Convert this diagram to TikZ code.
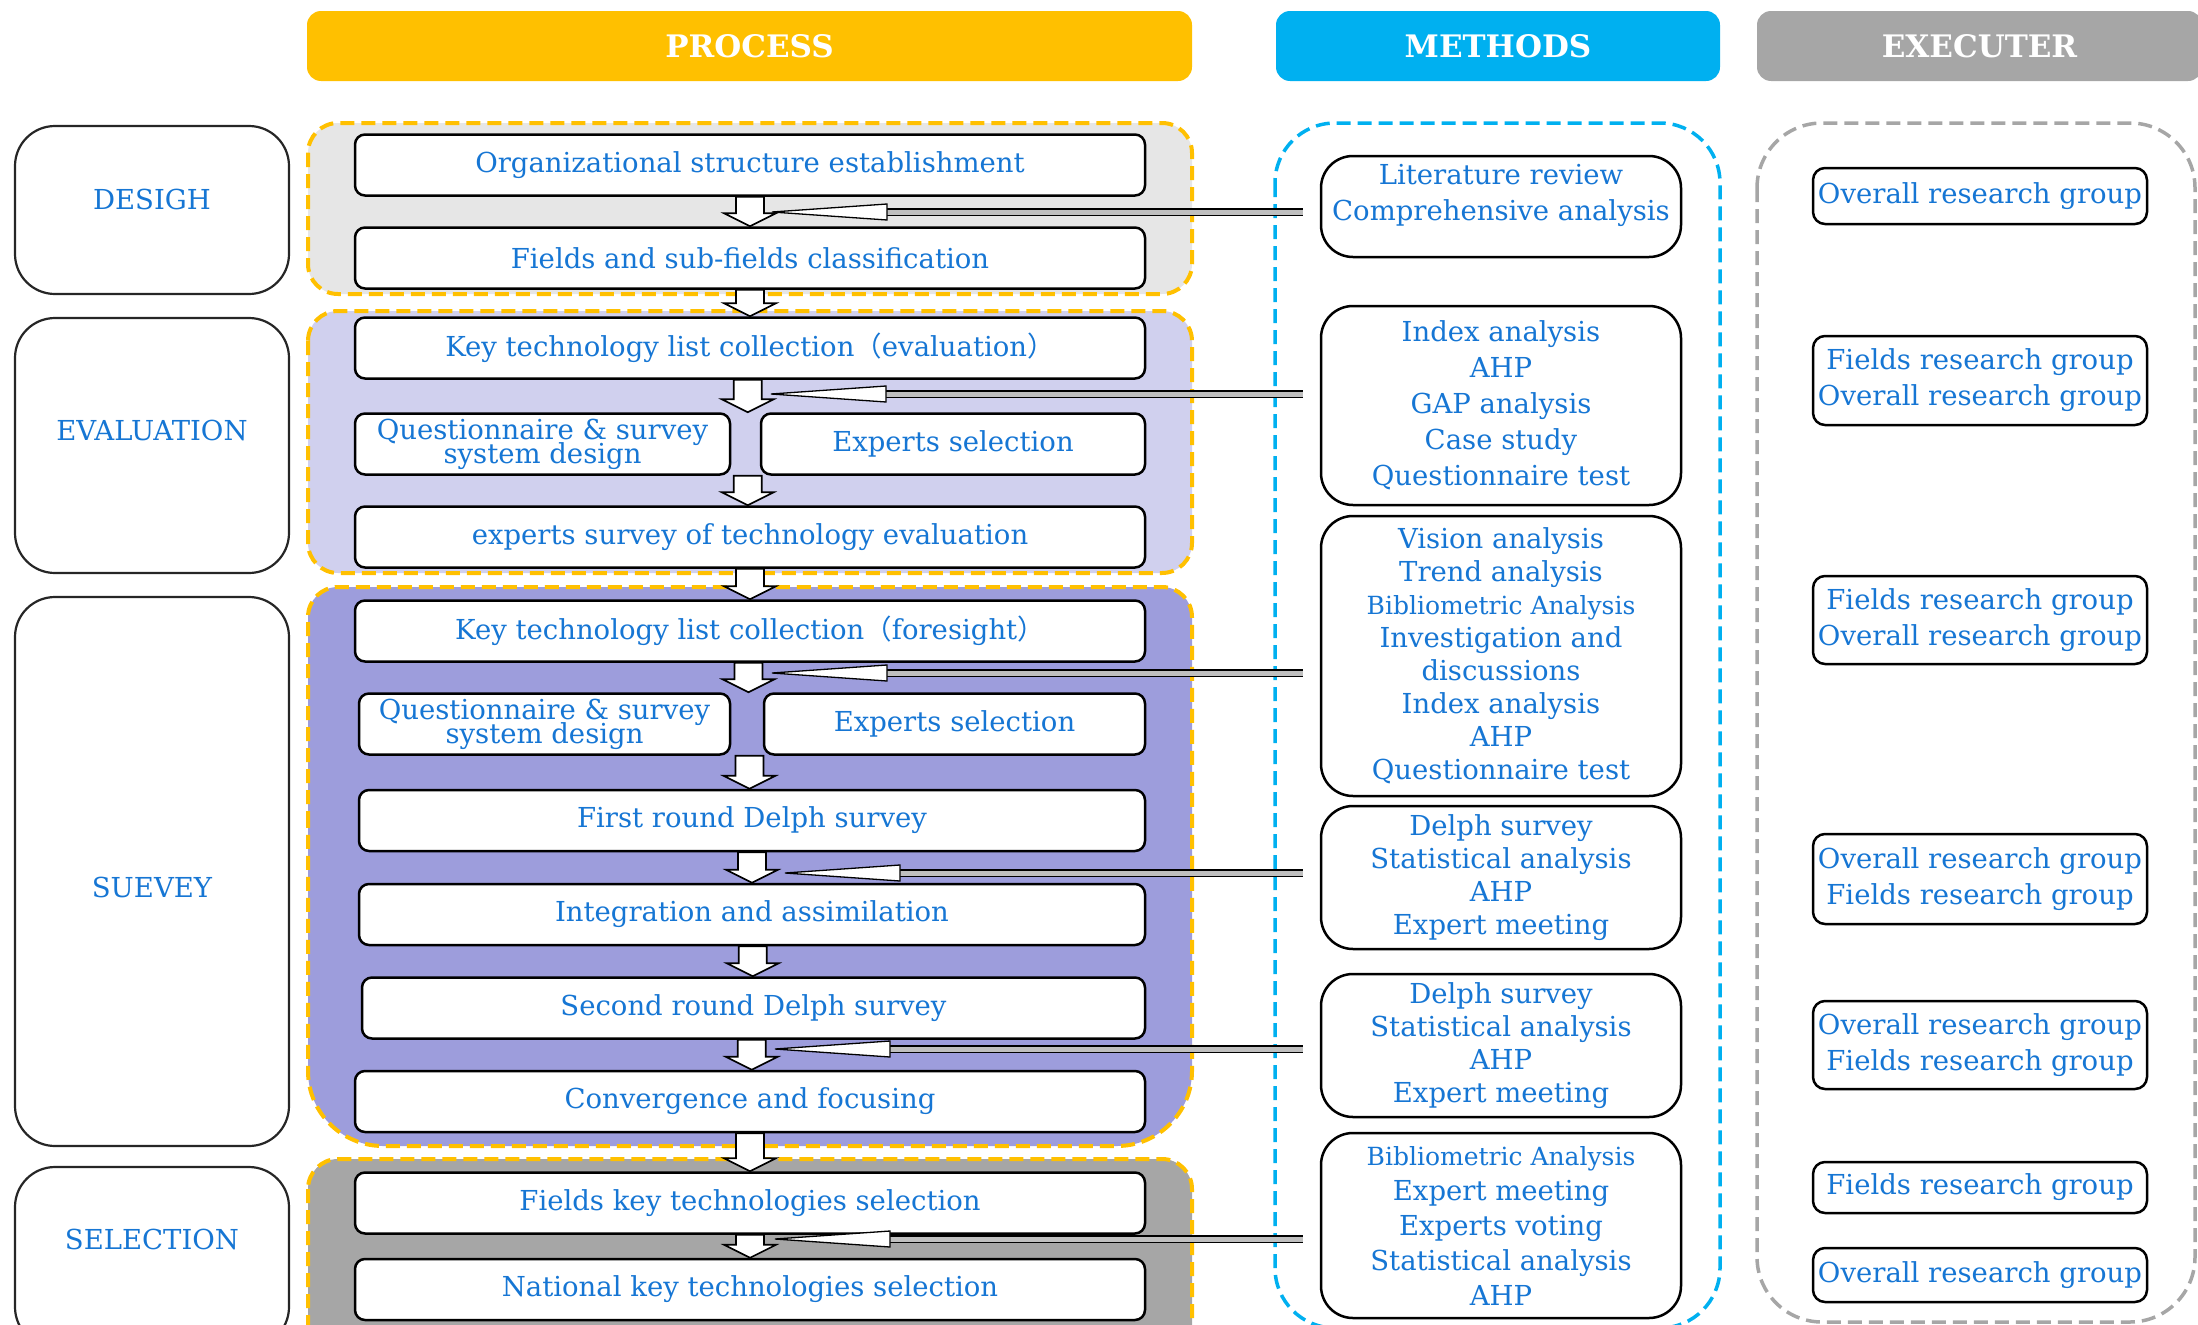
\documentclass[tikz,border=0pt]{standalone}
\usepackage{fontspec}
\setmainfont{DejaVu Serif}
\newfontfamily\cjk{Noto Sans CJK SC}
\usetikzlibrary{calc}
\newcommand{\tightlines}{\lineskiplimit=-60pt\relax}
\definecolor{txtblue}{RGB}{22,118,212}
\definecolor{procorange}{RGB}{255,192,0}
\definecolor{methblue}{RGB}{0,176,240}
\definecolor{execgray}{RGB}{166,166,166}
\definecolor{designfill}{RGB}{230,230,230}
\definecolor{evalfill}{RGB}{208,208,238}
\definecolor{survfill}{RGB}{157,157,220}
\definecolor{selfill}{RGB}{166,166,166}
\tikzset{
  every node/.style={font=\fontsize{27.5pt}{34pt}\selectfont, text=txtblue},
  header/.style={fill=#1, rounded corners=14pt, draw=none, minimum height=70pt, text=white, font=\fontsize{31pt}{36pt}\selectfont\bfseries},
  stagebox/.style={draw=black!85, line width=2.2pt, rounded corners=40pt, fill=white, minimum width=274pt},
  grp/.style={line width=4pt, dash pattern=on 14pt off 7pt},
  pbox/.style={draw=black, line width=2.5pt, rounded corners=10pt, fill=white, minimum height=61pt, inner sep=0pt},
  qbox/.style={pbox, align=center, font=\fontsize{27.5pt}{24pt}\selectfont\tightlines},
  mbox/.style={draw=black, line width=2.5pt, rounded corners=32pt, fill=white, minimum width=360pt, align=center, inner sep=0pt},
  ebox/.style={draw=black, line width=2.5pt, rounded corners=12pt, fill=white, minimum width=334pt, align=center, inner sep=0pt, font=\fontsize{27.5pt}{36pt}\selectfont},
  blockarr/.style={draw=black, line width=1.6pt, fill=white, line join=miter},
  shaft/.style={line width=1.6pt, double=black!25, double distance=5pt},
  headtri/.style={draw=black, line width=1.3pt, fill=white, line join=miter},
}
\newcommand{\blockdown}[2]{%
  \draw[blockarr] let \p1=(#1), \p2=(#2), \p3=($(#1)!0.5!(#2)$) in
   (\x3-14pt,\y1) -- (\x3+14pt,\y1) -- (\x3+14pt,\y2+13pt) -- (\x3+26pt,\y2+13pt)
   -- (\x3,\y2) -- (\x3-26pt,\y2+13pt) -- (\x3-14pt,\y2+13pt) -- cycle;}
\newcommand{\methodarrow}[2]{%
  \draw[shaft] let \p1=(#1.west), \p2=(#2) in (\x1-17pt,\y2) -- (\x2+110pt,\y2);
  \draw[headtri] let \p2=(#2) in (\x2,\y2) -- (\x2+115pt,\y2+8pt) -- (\x2+115pt,\y2-8pt) -- cycle;}
\begin{document}
\begin{tikzpicture}[x=1pt,y=-1pt]
\useasboundingbox (0,0) rectangle (2198,1325);
% headers
\node[header=procorange, minimum width=885pt] (hproc) at (749.5,46) {PROCESS};
\node[header=methblue, minimum width=444pt] (hmeth) at (1498,46) {METHODS};
\node[header=execgray, minimum width=445pt] (hexec) at (1979.5,46) {EXECUTER};
% group frames
\draw[grp, draw=procorange, fill=designfill, rounded corners=30pt] (308,123) rectangle (1192,294);
\draw[grp, draw=procorange, fill=evalfill, rounded corners=30pt] (308,311) rectangle (1192,573);
\draw[grp, draw=procorange, fill=survfill] (308,900) [rounded corners=30pt] -- (308,587) -- (1192,587) -- (1192,900) [rounded corners=75pt] -- (1192,1146) -- (308,1146) -- cycle;
\draw[grp, draw=procorange, fill=selfill, rounded corners=30pt] (308,1159) rectangle (1192,1360);
\draw[grp, draw=methblue, line width=3.5pt, rounded corners=60pt] (1275,123) rectangle (1720,1328);
\draw[grp, draw=execgray, line width=3.5pt, rounded corners=65pt] (1757,123) rectangle (2195,1322);
% stages
\node[stagebox, minimum height=168pt] (sdesign) at (152,210) {\raisebox{22pt}{DESIGH}};
\node[stagebox, minimum height=255pt] (seval) at (152,445.5) {\raisebox{30pt}{EVALUATION}};
\node[stagebox, minimum height=549pt, label={[name=ssurvt, yshift=-15.5pt]center:SUEVEY}] (ssurv) at (152,871.5) {};
\node[stagebox, minimum height=180pt] (ssel) at (152,1257) {\raisebox{35pt}{SELECTION}};
% process boxes
\node[pbox, minimum width=790pt] (org) at (750,165) {Organizational structure establishment};
\node[pbox, minimum width=790pt] (fields) at (750,258) {Fields and sub-fields classification};
\node[pbox, minimum width=790pt] (key1) at (750,348) {Key technology list collection{\cjk （}evaluation{\cjk ）}};
\node[qbox, minimum width=375pt] (q1) at (542.5,444) {Questionnaire \& survey\\system design};
\node[pbox, minimum width=384pt] (es1) at (953,444) {Experts selection};
\node[pbox, minimum width=790pt] (ess) at (750,537) {experts survey of technology evaluation};
\node[pbox, minimum width=790pt] (key2) at (750,631) {Key technology list collection{\cjk （}foresight{\cjk ）}};
\node[qbox, minimum width=371pt] (q2) at (544.5,724) {Questionnaire \& survey\\system design};
\node[pbox, minimum width=381pt] (es2) at (954.5,724) {Experts selection};
\node[pbox, minimum width=786pt] (first) at (752,820.5) {First round Delph survey};
\node[pbox, minimum width=786pt] (integ) at (752,914.5) {Integration and assimilation};
\node[pbox, minimum width=783pt] (second) at (753.5,1008) {Second round Delph survey};
\node[pbox, minimum width=790pt] (conv) at (750,1101.5) {Convergence and focusing};
\node[pbox, minimum width=790pt] (fkt) at (750,1203) {Fields key technologies selection};
\node[pbox, minimum width=790pt] (nkt) at (750,1289.5) {National key technologies selection};
% methods
\node[mbox, minimum height=101pt, label={[name=m1t, align=center, font=\fontsize{27.5pt}{36pt}\selectfont, yshift=11pt]center:Literature review\\Comprehensive analysis}] (m1) at (1501,206.5) {};
\node[mbox, minimum height=199pt, font=\fontsize{27.5pt}{36pt}\selectfont] (m2) at (1501,405.5) {Index analysis\\AHP\\GAP analysis\\Case study\\Questionnaire test};
\node[mbox, minimum height=280pt, font=\fontsize{27.5pt}{33pt}\selectfont] (m3) at (1501,656) {Vision analysis\\Trend analysis\\{\fontsize{25pt}{33pt}\selectfont Bibliometric Analysis}\\Investigation and\\discussions\\Index analysis\\AHP\\Questionnaire test};
\node[mbox, minimum height=143pt, font=\fontsize{27.5pt}{33pt}\selectfont] (m4) at (1501,877.5) {Delph survey\\Statistical analysis\\AHP\\Expert meeting};
\node[mbox, minimum height=143pt, font=\fontsize{27.5pt}{33pt}\selectfont] (m5) at (1501,1045.5) {Delph survey\\Statistical analysis\\AHP\\Expert meeting};
\node[mbox, minimum height=185pt, font=\fontsize{27.5pt}{35pt}\selectfont] (m6) at (1501,1225.5) {{\fontsize{25pt}{35pt}\selectfont Bibliometric Analysis}\\Expert meeting\\Experts voting\\Statistical analysis\\AHP};
% executers
\node[ebox, minimum height=56pt] (e1) at (1980,196) {Overall research group};
\node[ebox, minimum height=89pt] (e2) at (1980,380.5) {Fields research group\\Overall research group};
\node[ebox, minimum height=88pt] (e3) at (1980,620) {Fields research group\\Overall research group};
\node[ebox, minimum height=90pt] (e4) at (1980,879) {Overall research group\\Fields research group};
\node[ebox, minimum height=88pt] (e5) at (1980,1045) {Overall research group\\Fields research group};
\node[ebox, minimum height=51pt] (e6) at (1980,1187.5) {Fields research group};
\node[ebox, minimum height=54pt] (e7) at (1980,1275) {Overall research group};
% row coordinates
\coordinate (r1t) at ($(q1.north east)!0.5!(es1.north west)$);
\coordinate (r1b) at ($(q1.south east)!0.5!(es1.south west)$);
\coordinate (r2t) at ($(q2.north east)!0.5!(es2.north west)$);
\coordinate (r2b) at ($(q2.south east)!0.5!(es2.south west)$);
% down arrows
\blockdown{org.south}{fields.north}
\blockdown{fields.south}{key1.north}
\blockdown{key1.south}{r1t}
\blockdown{r1b}{ess.north}
\blockdown{ess.south}{key2.north}
\blockdown{key2.south}{r2t}
\blockdown{r2b}{first.north}
\blockdown{first.south}{integ.north}
\blockdown{integ.south}{second.north}
\blockdown{second.south}{conv.north}
\blockdown{conv.south}{fkt.north}
\blockdown{fkt.south}{nkt.north}
% method arrows
\coordinate (t1) at (772,212);
\coordinate (t2) at (771,394);
\coordinate (t3) at (772,673);
\coordinate (t4) at (785,873);
\coordinate (t5) at (775,1049);
\coordinate (t6) at (775,1239);
\methodarrow{m1}{t1}
\methodarrow{m2}{t2}
\methodarrow{m3}{t3}
\methodarrow{m4}{t4}
\methodarrow{m5}{t5}
\methodarrow{m6}{t6}
\end{tikzpicture}
\end{document}
